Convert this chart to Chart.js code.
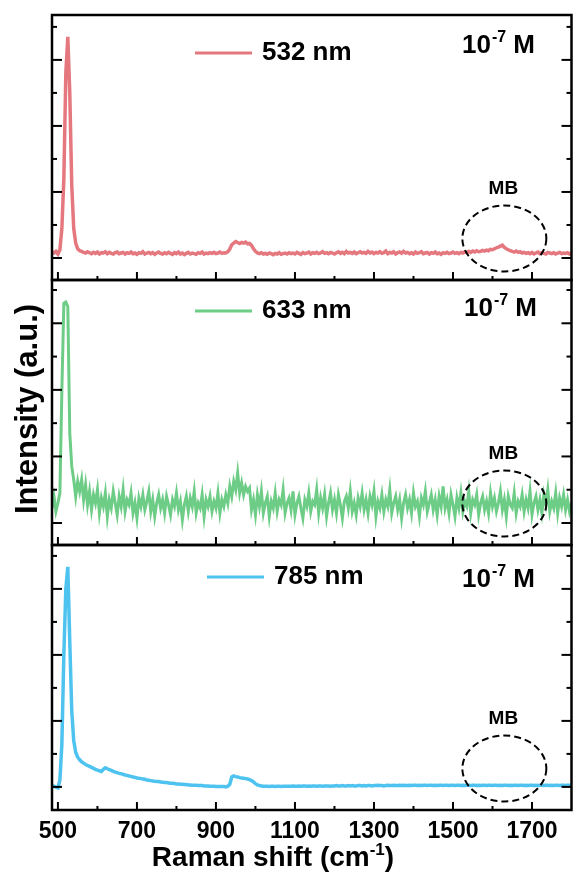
<!DOCTYPE html>
<html><head><meta charset="utf-8">
<script src="https://cdn.jsdelivr.net/npm/chart.js@4"></script>
<style>html,body{margin:0;padding:0;background:#fff;}canvas{display:block;}</style>
</head><body>
<canvas id="c" width="573" height="884"></canvas>
<script>
// Raman shift (cm-1) sample positions
const shift = [
 485,490,495,500,505,510,515,520,525,530,535,540,545,550,555,560,565,570,575,580,
 585,590,595,600,605,610,615,620,625,630,635,640,645,650,655,660,665,670,675,680,
 685,690,695,700,705,710,715,720,725,730,735,740,745,750,755,760,765,770,775,780,
 785,790,795,800,805,810,815,820,825,830,835,840,845,850,855,860,865,870,875,880,
 885,890,895,900,905,910,915,920,925,930,935,940,945,950,955,960,965,970,975,980,
 985,990,995,1000,1005,1010,1015,1020,1025,1030,1035,1040,1045,1050,1055,1060,1065,1070,1075,1080,
 1085,1090,1095,1100,1105,1110,1115,1120,1125,1130,1135,1140,1145,1150,1155,1160,1165,1170,1175,1180,
 1185,1190,1195,1200,1205,1210,1215,1220,1225,1230,1235,1240,1245,1250,1255,1260,1265,1270,1275,1280,
 1285,1290,1295,1300,1305,1310,1315,1320,1325,1330,1335,1340,1345,1350,1355,1360,1365,1370,1375,1380,
 1385,1390,1395,1400,1405,1410,1415,1420,1425,1430,1435,1440,1445,1450,1455,1460,1465,1470,1475,1480,
 1485,1490,1495,1500,1505,1510,1515,1520,1525,1530,1535,1540,1545,1550,1555,1560,1565,1570,1575,1580,
 1585,1590,1595,1600,1605,1610,1615,1620,1625,1630,1635,1640,1645,1650,1655,1660,1665,1670,1675,1680,
 1685,1690,1695,1700,1705,1710,1715,1720,1725,1730,1735,1740,1745,1750,1755,1760,1765,1770,1775,1780,
 1785,1790,1795,1800];

// Intensities (a.u.), each panel on its own scale
const red532 = [
 0.18,0.15,0.2,0.12,0.25,0.9,2.4,5.6,6.7,5.0,2.2,0.9,0.45,0.28,0.22,0.2,0.17,0.15,0.19,0.16,
 0.13,0.17,0.14,0.18,0.12,0.16,0.15,0.19,0.13,0.17,0.14,0.12,0.16,0.18,0.13,0.15,0.17,0.12,0.16,0.14,
 0.18,0.13,0.15,0.11,0.16,0.14,0.19,0.12,0.15,0.17,0.13,0.16,0.11,0.15,0.18,0.14,0.12,0.16,0.13,0.17,
 0.14,0.11,0.16,0.13,0.18,0.12,0.15,0.1,0.14,0.17,0.12,0.15,0.13,0.11,0.16,0.14,0.18,0.12,0.15,0.13,
 0.16,0.14,0.17,0.13,0.15,0.18,0.14,0.16,0.15,0.19,0.27,0.4,0.45,0.5,0.47,0.44,0.47,0.45,0.48,0.43,
 0.44,0.38,0.28,0.2,0.15,0.13,0.16,0.12,0.14,0.11,0.15,0.13,0.1,0.14,0.12,0.16,0.11,0.13,0.15,0.12,
 0.16,0.13,0.15,0.12,0.17,0.14,0.11,0.16,0.13,0.15,0.18,0.12,0.16,0.14,0.17,0.13,0.15,0.19,0.14,0.16,
 0.13,0.17,0.15,0.12,0.16,0.19,0.14,0.17,0.13,0.2,0.15,0.17,0.14,0.18,0.13,0.16,0.19,0.15,0.17,0.14,
 0.2,0.15,0.18,0.13,0.17,0.15,0.19,0.14,0.16,0.21,0.13,0.17,0.15,0.19,0.12,0.16,0.18,0.14,0.2,0.15,
 0.17,0.13,0.16,0.12,0.18,0.14,0.16,0.19,0.13,0.15,0.17,0.12,0.16,0.14,0.18,0.13,0.15,0.11,0.16,0.14,
 0.17,0.13,0.15,0.18,0.14,0.16,0.13,0.17,0.15,0.19,0.16,0.2,0.17,0.21,0.18,0.22,0.19,0.2,0.23,0.21,
 0.24,0.22,0.26,0.25,0.28,0.31,0.33,0.36,0.39,0.32,0.28,0.25,0.22,0.2,0.18,0.21,0.17,0.19,0.15,0.17,
 0.14,0.16,0.13,0.17,0.12,0.15,0.18,0.13,0.16,0.14,0.12,0.17,0.15,0.13,0.16,0.12,0.15,0.17,0.13,0.15,
 0.14,0.16,0.12,0.15];

const green633 = [
 0.45,0.8,0.35,0.6,0.9,4.0,6.6,6.64,6.5,2.7,1.7,1.3,0.8,1.25,0.95,1.3,0.7,1.15,0.55,0.95,
 0.4,0.85,0.6,1.0,0.3,0.75,0.5,0.9,0.2,0.7,0.45,0.95,0.6,0.25,0.8,0.5,1.0,0.35,0.7,0.55,
 0.9,0.3,0.6,0.15,0.75,0.5,0.85,0.4,0.65,0.95,0.35,0.7,0.2,0.6,0.85,0.45,0.7,0.3,0.8,0.55,
 0.25,0.7,0.5,0.9,0.4,0.65,0.1,0.55,0.8,0.35,0.75,0.5,0.95,0.3,0.6,0.45,0.85,0.2,0.7,0.5,
 0.8,0.35,0.65,0.45,0.9,0.3,0.7,0.5,0.85,0.6,1.1,0.8,1.25,1.0,1.5,0.9,1.2,0.85,1.1,0.95,
 1.05,0.4,0.7,0.25,0.85,0.5,0.95,0.3,0.6,0.8,0.2,0.65,0.45,0.9,0.35,0.7,0.55,1.0,0.3,0.6,
 0.75,0.4,0.95,0.25,0.6,0.8,0.45,0.15,0.7,0.5,0.9,0.35,0.65,0.55,1.0,0.3,0.75,0.45,0.85,0.2,
 0.6,0.9,0.4,0.7,0.3,0.85,0.55,0.15,0.65,0.8,0.45,0.95,0.35,0.6,0.25,0.75,0.5,0.9,0.4,0.7,
 0.3,0.8,0.55,0.95,0.2,0.65,0.45,0.85,0.35,0.7,0.5,1.0,0.3,0.6,0.8,0.4,0.7,0.15,0.6,0.85,
 0.45,0.7,0.3,0.9,0.5,0.65,0.2,0.75,0.55,0.95,0.35,0.6,0.85,0.4,0.7,0.25,0.8,0.5,1.1,0.45,
 0.7,0.3,0.85,0.55,0.2,0.75,0.45,0.9,0.35,0.65,0.5,0.95,0.3,0.7,0.55,0.85,0.25,0.6,0.8,0.4,
 0.65,0.3,0.9,0.5,0.75,0.35,0.6,0.95,0.4,0.7,0.2,0.8,0.55,0.45,0.9,0.3,0.65,0.5,0.85,0.35,
 0.7,0.45,0.95,0.25,0.6,0.8,0.4,0.7,0.3,0.85,0.55,1.0,0.35,0.65,0.45,0.9,0.3,0.75,0.5,0.85,
 0.4,0.7,0.35,0.6];

const blue785 = [
 0.04,0.02,-0.01,-0.03,0.2,1.3,4.0,6.0,6.67,4.4,2.3,1.4,1.05,0.9,0.82,0.76,0.72,0.68,0.65,0.62,
 0.59,0.56,0.53,0.51,0.49,0.47,0.53,0.58,0.55,0.52,0.5,0.47,0.45,0.43,0.41,0.4,0.38,0.36,0.35,0.33,
 0.32,0.3,0.29,0.27,0.26,0.25,0.24,0.23,0.21,0.2,0.19,0.18,0.17,0.16,0.16,0.15,0.14,0.13,0.13,0.12,
 0.11,0.11,0.1,0.09,0.09,0.08,0.08,0.07,0.07,0.06,0.06,0.05,0.05,0.05,0.04,0.04,0.04,0.03,0.03,0.03,
 0.02,0.02,0.02,0.01,0.01,0.01,0.01,0.01,0.0,0.02,0.08,0.3,0.33,0.31,0.3,0.28,0.27,0.26,0.25,0.24,
 0.22,0.19,0.15,0.1,0.06,0.04,0.03,0.02,0.02,0.02,0.01,0.02,0.02,0.01,0.02,0.02,0.01,0.02,0.02,0.02,
 0.02,0.02,0.03,0.02,0.02,0.03,0.02,0.03,0.03,0.02,0.03,0.02,0.03,0.03,0.02,0.03,0.03,0.02,0.03,0.03,
 0.03,0.02,0.03,0.03,0.04,0.03,0.03,0.04,0.03,0.03,0.04,0.03,0.04,0.03,0.03,0.04,0.04,0.03,0.04,0.03,
 0.04,0.04,0.03,0.04,0.04,0.05,0.04,0.04,0.03,0.04,0.05,0.04,0.04,0.05,0.04,0.04,0.05,0.04,0.05,0.04,
 0.04,0.05,0.04,0.05,0.05,0.04,0.05,0.04,0.05,0.05,0.04,0.05,0.05,0.04,0.05,0.04,0.05,0.05,0.04,0.05,
 0.05,0.04,0.05,0.05,0.04,0.05,0.05,0.04,0.05,0.04,0.05,0.05,0.04,0.05,0.05,0.04,0.05,0.04,0.05,0.05,
 0.04,0.05,0.05,0.04,0.05,0.05,0.04,0.05,0.04,0.05,0.05,0.04,0.05,0.04,0.05,0.05,0.04,0.05,0.05,0.04,
 0.05,0.04,0.05,0.05,0.04,0.05,0.04,0.05,0.05,0.04,0.05,0.05,0.04,0.05,0.04,0.05,0.05,0.04,0.05,0.05,
 0.04,0.05,0.05,0.04];

const xTickLabels = [500,700,900,1100,1300,1500,1700];
const xMinorTicks = [600,800,1000,1200,1400,1600];
const seriesNames = ['532 nm','633 nm','785 nm'];
const mbCenter = 1630;

const FONT = '"Liberation Sans", Arial, sans-serif';

const panels = [
 {axis:'y1', values:red532,   color:'#E5787F', width:3.5, name:seriesNames[0], min:-0.667, max:7.36, weight:3, lx:195, ly:53,  cx:462, cy:53},
 {axis:'y2', values:green633, color:'#6DCD86', width:3,   name:seriesNames[1], min:-0.66,  max:7.3,  weight:2, lx:195, ly:311, cx:464, cy:316},
 {axis:'y3', values:blue785,  color:'#4EC3EF', width:3.5, name:seriesNames[2], min:-0.7,   max:7.33, weight:1, lx:207, ly:577, cx:462, cy:587}
];

function seg(ctx,x1,y1,x2,y2){ctx.beginPath();ctx.moveTo(x1,y1);ctx.lineTo(x2,y2);ctx.stroke();}

const deco = {
 id:'deco',
 afterDatasetsDraw(chart){
  const ctx = chart.ctx, area = chart.chartArea, xs = chart.scales.x;
  ctx.save();
  ctx.lineCap = 'butt';
  panels.forEach(p => {
   const ys = chart.scales[p.axis];
   const top = ys.top, bot = ys.bottom;
   ctx.strokeStyle = '#000'; ctx.lineWidth = 2.5; ctx.setLineDash([]);
   ctx.strokeRect(area.left, top, area.right - area.left, bot - top);
   ctx.lineWidth = 2;
   for (let v = Math.ceil(ys.min); v <= ys.max; v++) {
    const py = ys.getPixelForValue(v);
    const len = (v % 2 === 0) ? 10 : 5;
    seg(ctx, area.left, py, area.left + len, py);
    seg(ctx, area.right, py, area.right - len, py);
   }
   xTickLabels.forEach(v => { const px = xs.getPixelForValue(v); seg(ctx, px, bot, px, bot - 8); });
   xMinorTicks.forEach(v => { const px = xs.getPixelForValue(v); seg(ctx, px, bot, px, bot - 4); });
   // legend
   ctx.strokeStyle = p.color; ctx.lineWidth = 3;
   seg(ctx, p.lx, p.ly, p.lx + 57, p.ly);
   ctx.fillStyle = '#000'; ctx.textBaseline = 'middle'; ctx.textAlign = 'left';
   ctx.font = 'bold 26px ' + FONT;
   ctx.fillText(p.name, p.lx + 67, p.ly);
   // concentration
   ctx.textBaseline = 'alphabetic';
   let x = p.cx;
   ctx.fillText('10', x, p.cy); x += ctx.measureText('10').width + 1;
   ctx.font = 'bold 16px ' + FONT;
   ctx.fillText('-7', x, p.cy - 11); x += ctx.measureText('-7').width;
   ctx.font = 'bold 26px ' + FONT;
   ctx.fillText(' M', x, p.cy);
   // MB label + dashed ellipse
   const ex = xs.getPixelForValue(mbCenter);
   ctx.font = 'bold 19px ' + FONT; ctx.textAlign = 'center'; ctx.textBaseline = 'middle';
   ctx.fillText('MB', ex - 1, top + 174);
   ctx.strokeStyle = '#000'; ctx.lineWidth = 2; ctx.setLineDash([7,4]);
   ctx.beginPath(); ctx.ellipse(ex, top + 223.5, 42, 33, 0, 0, Math.PI * 2); ctx.stroke();
   ctx.setLineDash([]);
  });
  ctx.fillStyle = '#000';
  ctx.save();
  ctx.translate(37, 409); ctx.rotate(-Math.PI / 2);
  ctx.font = 'bold 31px ' + FONT; ctx.textAlign = 'center'; ctx.textBaseline = 'alphabetic';
  ctx.fillText('Intensity (a.u.)', 0, 0);
  ctx.restore();
  const main = 'Raman shift (cm', sup = '-1', tail = ')';
  ctx.textAlign = 'left'; ctx.textBaseline = 'alphabetic';
  ctx.font = 'bold 28px ' + FONT; const w1 = ctx.measureText(main).width, w3 = ctx.measureText(tail).width;
  ctx.font = 'bold 17px ' + FONT; const w2 = ctx.measureText(sup).width;
  let tx = 273 - (w1 + w2 + w3) / 2; const by = 866;
  ctx.font = 'bold 28px ' + FONT; ctx.fillText(main, tx, by); tx += w1;
  ctx.font = 'bold 17px ' + FONT; ctx.fillText(sup, tx, by - 11); tx += w2;
  ctx.font = 'bold 28px ' + FONT; ctx.fillText(tail, tx, by);
  ctx.restore();
 }
};

const hiddenY = p => ({
 type:'linear', position:'left', stack:'panels', stackWeight:1, weight:p.weight,
 min:p.min, max:p.max, display:true,
 ticks:{display:false}, grid:{display:false, drawTicks:false}, border:{display:false},
 afterFit: s => { s.width = 0; }
});

const scales = {
 x: {
  type:'linear', position:'bottom', min:485, max:1800,
  grid:{display:false, drawTicks:false}, border:{display:false},
  afterBuildTicks: s => { s.ticks = xTickLabels.map(v => ({value:v})); },
  afterFit: s => { s.height = 36; },
  ticks:{autoSkip:false, maxRotation:0, padding:8, color:'#000',
         font:{family:FONT, size:23, weight:'bold'}, callback: v => String(v)}
 }
};
panels.forEach(p => { scales[p.axis] = hiddenY(p); });

new Chart(document.getElementById('c'), {
 type:'line',
 data:{ datasets: panels.map(p => ({
   label:p.name, yAxisID:p.axis,
   data: shift.map((x, i) => ({x, y:p.values[i]})),
   borderColor:p.color, borderWidth:p.width, pointRadius:0, tension:0, fill:false
 }))},
 options:{
  responsive:false, animation:false, devicePixelRatio:1,
  layout:{padding:{left:52, right:1.5, top:15, bottom:38}},
  plugins:{legend:{display:false}, tooltip:{enabled:false}},
  scales
 },
 plugins:[deco]
});
</script>
</body></html>
